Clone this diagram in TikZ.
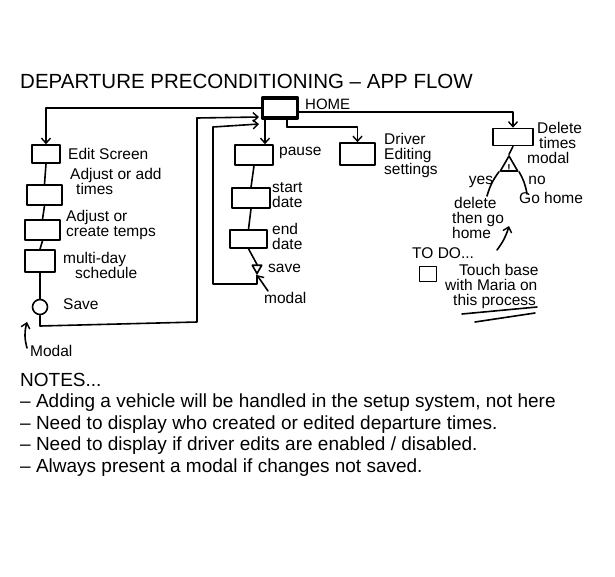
\documentclass[tikz,border=0pt]{standalone}
\usepackage{fontspec}
\setmainfont{Liberation Sans}
\usetikzlibrary{arrows.meta,shapes.geometric,calc}
\begin{document}
\begin{tikzpicture}[x=1pt,y=-1pt,
  ink/.style={line width=1.6pt,line cap=round,line join=round},
  box/.style={ink,draw,inner sep=0pt},
  arr/.style={ink,-{Straight Barb[length=5pt,width=9pt,line width=1.4pt]}},
  lbl/.style={inner sep=0pt,font=\fontsize{15.5}{15}\selectfont,align=left},
  note/.style={inner sep=0pt,anchor=base west,font=\fontsize{19}{21}\selectfont}]
\useasboundingbox (0,0) rectangle (615,576);
% title
\node[inner sep=0pt,anchor=base west,font=\fontsize{20.5}{22}\selectfont] (title) at (20,88) {DEPARTURE PRECONDITIONING -- APP FLOW};
% home
\node[box,line width=3.5pt,minimum width=35pt,minimum height=20pt] (home) at (280,108) {};
\node[lbl,anchor=base west,font=\fontsize{15}{14}\selectfont] (homeT) at (305,109) {HOME};
% left column
\node[box,minimum width=28pt,minimum height=18pt] (edit) at (46,154) {};
\node[box,minimum width=35pt,minimum height=20pt] (adjt) at (44.5,195) {};
\node[box,minimum width=35pt,minimum height=20pt] (adjtemp) at (42.5,230) {};
\node[box,minimum width=30pt,minimum height=22pt] (multi) at (40,261) {};
\node[box,circle,minimum size=15pt] (save1) at (40,307) {};
\node[lbl,anchor=base west] (editT) at (68,159) {Edit Screen};
\node[lbl,anchor=north west] (adjtT) at (70,168) {Adjust or add\\\hspace*{6pt}times};
\node[lbl,anchor=north west] (adjtempT) at (66,210) {Adjust or\\create temps};
\node[lbl,anchor=north west] (multiT) at (63,252) {multi-day\\\hspace*{12pt}schedule};
\node[lbl,anchor=west] (saveT) at (63,304) {Save};
\node[lbl,anchor=base west] (modalT) at (30,356) {Modal};
\coordinate (l1) at (40,326);
\coordinate (l2) at (197,322);
\coordinate (l3) at (197,118);
\coordinate (l4) at (259,117);
\coordinate (m1) at (27,348);
\coordinate (m2) at (27,322);
\draw[arr] (home.west) -| (edit.north);
\draw[ink] (edit.south) -- (adjt.north) (adjt.south) -- (adjtemp.north) (adjtemp.south) -- (multi.north) (multi.south) -- (save1.north);
\draw[ink] (save1.south) -- (l1) -- (l2) -- (l3);
\draw[arr] (l3) -- (l4);
\draw[arr] (m1) to[bend left=15] (m2);
% pause column
\node[box,minimum width=38pt,minimum height=20pt] (pause) at (254,155) {};
\node[box,minimum width=38pt,minimum height=20pt] (start) at (251,198) {};
\node[box,minimum width=37pt,minimum height=18pt] (enddate) at (248.5,239) {};
\node[ink,draw,regular polygon,regular polygon sides=3,shape border rotate=180,minimum size=11pt,inner sep=0pt] (save2) at (257,268) {};
\node[lbl,anchor=west] (pauseT) at (279,153) {pause};
\node[lbl,anchor=north west] (startT) at (272,182) {start\\date};
\node[lbl,anchor=north west] (endT) at (272,223) {end\\date};
\node[lbl,anchor=west] (save2T) at (268,268) {save};
\node[lbl,anchor=base west] (modal2T) at (264,303) {modal};
\coordinate (h1) at (265,118);
\coordinate (p1) at (257,284);
\coordinate (p2) at (213,284);
\coordinate (p3) at (213,127);
\coordinate (p4) at (259,124);
\coordinate (q1) at (268,291);
\draw[arr] (h1) -- (h1 |- pause.north);
\draw[ink] (pause.south) -- (start.north) (start.south) -- (enddate.north) (enddate.south) -- (save2.north);
\draw[ink] (save2.south) -- (p1) -- (p2) -- (p3);
\draw[arr] (p3) -- (p4);
\draw[arr] (q1) -- (save2.south);
% driver editing
\node[box,minimum width=35pt,minimum height=22pt] (driver) at (357.5,154) {};
\node[lbl,anchor=north west] (driverT) at (384,133) {Driver\\Editing\\settings};
\coordinate (d0) at (287,118);
\coordinate (d1) at (287,127);
\draw[ink] (d0) -- (d1);
\draw[arr] (d1) -| (driver.north);
% delete
\node[box,minimum width=40pt,minimum height=17pt] (del) at (513,137) {};
\node[lbl,anchor=north west] (delT) at (537,122) {Delete\\\hspace*{2pt}times\\\hspace*{-10pt}modal};
\coordinate (e0) at (298,112);
\draw[arr] (e0) -| (del.north);
\node[ink,draw,isosceles triangle,isosceles triangle apex angle=60,shape border rotate=90,minimum height=15pt,inner sep=0pt] (warn) at (509,166) {};
\node[inner sep=0pt,font=\fontsize{10}{10}\selectfont\bfseries] (bang) at (509,168) {!};
\coordinate (y1) at (487,196);
\coordinate (n1) at (527,194);
\draw[ink] (del.south) -- (warn.apex);
\draw[ink] (warn.left corner) to[bend right=10] (y1);
\draw[ink] (warn.right corner) to[bend left=10] (n1);
\node[lbl,anchor=base] (yesT) at (481,184) {yes};
\node[lbl,anchor=base] (noT) at (537,184) {no};
\node[lbl,anchor=north west] (delthen) at (452,197) {\hspace*{2pt}delete\\then go\\home};
\node[lbl,anchor=base west] (gohome) at (519,203) {Go home};
% to do
\node[lbl,anchor=base west] (todoT) at (412,258) {TO DO...};
\node[box,minimum width=17pt,minimum height=15pt] (check) at (428,274) {};
\node[lbl,anchor=north west] (touch) at (445,264) {\hspace*{14pt}Touch base\\with Maria on\\\hspace*{8pt}this process};
\coordinate (t1) at (497,250);
\coordinate (t2) at (509,226);
\draw[arr] (t1) to[bend right=10] (t2);
\coordinate (u1) at (462,314);
\coordinate (u2) at (537,307);
\coordinate (u3) at (475,322);
\coordinate (u4) at (535,313);
\draw[ink] (u1) -- (u2);
\draw[ink] (u3) -- (u4);
% notes
\node[note] (notes) at (20,386) {NOTES...};
\node[note] (n1t) at (20,407.5) {-- Adding a vehicle will be handled in the setup system, not here};
\node[note] (n2t) at (20,429) {-- Need to display who created or edited departure times.};
\node[note] (n3t) at (20,450.5) {-- Need to display if driver edits are enabled / disabled.};
\node[note] (n4t) at (20,472) {-- Always present a modal if changes not saved.};
\end{tikzpicture}
\end{document}
